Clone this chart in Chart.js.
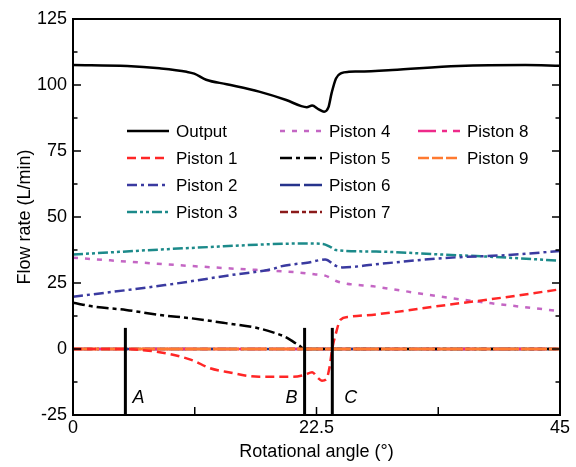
<!DOCTYPE html>
<html>
<head>
<meta charset="utf-8">
<script src="https://cdn.jsdelivr.net/npm/chart.js@4.4.1/dist/chart.umd.min.js"></script>
<style>
  html, body { margin: 0; padding: 0; background: #fff; }
  #wrap { width: 576px; height: 467px; }
</style>
</head>
<body>
<div id="wrap"><canvas id="flowChart" width="576" height="467"></canvas></div>
<script>
// Flow rate vs rotational angle

var outputX = [0, 5, 8, 10.5, 11.2, 12.3, 14.2, 17.2, 19.7, 21.1, 21.6, 22.1, 22.7, 23.2, 23.6, 23.9, 24.3, 24.8, 25.5, 26.4, 29.5, 35.6, 41.8, 45];
var outputY = [107.6, 107.2, 106.3, 105, 104.3, 102, 100.3, 97.5, 94.3, 92, 91.6, 92.2, 90.8, 89.9, 91.5, 97, 102.5, 104.5, 105, 105.1, 105.7, 107.2, 107.6, 107.3];

var piston1X = [0, 4.8, 6.3, 8, 11, 12.6, 14.1, 17.2, 20.3, 21.4, 22.1, 22.6, 23.0, 23.4, 23.7, 23.95, 24.3, 24.7, 25.5, 28, 34, 38.7, 45];
var piston1Y = [0, 0, -0.4, -1.2, -4.2, -7.2, -8.6, -10.5, -10.5, -9.8, -8.8, -10.8, -12, -11.5, -7, 0, 6, 11, 12.2, 13.1, 16.4, 18.9, 22.6];

var piston2X = [0, 8.5, 14.6, 18.6, 19.2, 21.8, 23.3, 24.3, 24.9, 28, 34.1, 40.2, 45];
var piston2Y = [19.8, 24.2, 28, 30.5, 31.3, 32.8, 33.9, 31.5, 30.9, 32.1, 34.4, 35.6, 37.1];

var piston3X = [0, 11.5, 21.8, 23.1, 23.8, 24.3, 28, 34, 40.2, 45];
var piston3Y = [35.8, 38.4, 40, 39.8, 38.6, 37.5, 36.9, 35.8, 34.6, 33.4];

var piston4X = [0, 8.5, 14.6, 20.8, 22.3, 23.3, 24.5, 28, 34, 38.7, 44, 45];
var piston4Y = [34.6, 32.1, 30.5, 29, 28.3, 27.8, 25.5, 23.6, 19.8, 17.3, 14.8, 14.3];

var piston5X = [0, 2, 4.9, 8, 11, 14.1, 17.2, 18.7, 19.6, 20.3, 20.9, 21.4, 45];
var piston5Y = [17.5, 16, 14.8, 12.9, 11.6, 9.8, 7.8, 6, 4.6, 2.9, 1.3, 0, 0];

// pistons 6 to 9 stay at zero over the whole range
var zeroX = [0, 45];
var piston6Y = [0, 0];
var piston7Y = [0, 0];
var piston8Y = [0, 0];
var piston9Y = [0, 0];

var xTickLabels = ['0', '22.5', '45'];
var yTickLabels = ['-25', '0', '25', '50', '75', '100', '125'];

var markerAngles = [4.84, 21.4, 23.96];
var markerNames = ['A', 'B', 'C'];
var markerTop = 8;

function pts(xs, ys) {
    return xs.map(function (x, i) { return { x: x, y: ys[i] }; });
}

function series(label, xs, ys, color, dash, order) {
    return {
        label: label,
        data: pts(xs, ys),
        borderColor: color,
        backgroundColor: color,
        borderWidth: 2.5,
        borderDash: dash,
        pointRadius: 0,
        fill: false,
        cubicInterpolationMode: 'monotone',
        order: order
    };
}

var datasets = [
    series('Output', outputX, outputY, '#000000', [], 0),
    series('Piston 1', piston1X, piston1Y, '#ff2626', [9, 5], 1),
    series('Piston 2', piston2X, piston2Y, '#3a3aa0', [10, 4, 3, 4], 2),
    series('Piston 3', piston3X, piston3Y, '#1c8a8a', [10, 3, 3, 3, 3, 3], 3),
    series('Piston 4', piston4X, piston4Y, '#c466c4', [5, 7], 4),
    series('Piston 5', piston5X, piston5Y, '#000000', [12, 4, 4, 4], 6),
    series('Piston 6', zeroX, piston6Y, '#26338c', [20, 4], 8),
    series('Piston 7', zeroX, piston7Y, '#8b1a1a', [8, 3, 8, 3, 4, 3], 9),
    series('Piston 8', zeroX, piston8Y, '#ee2a8a', [18, 6, 5, 6], 7),
    series('Piston 9', zeroX, piston9Y, '#ff7a30', [11, 3], 5)
];
// on the plot the orange zero line hides almost everything under it
datasets[9].segment = { borderDash: [26, 2] };
datasets[9].borderWidth = 3;

var FONT = 'Liberation Sans, Arial, sans-serif';

// box, inward ticks, A/B/C markers and the 3-column legend
var decorPlugin = {
    id: 'decor',
    afterDraw: function (chart) {
        var ctx = chart.ctx;
        var a = chart.chartArea;
        var xs = chart.scales.x, ys = chart.scales.y;
        ctx.save();
        ctx.strokeStyle = '#000';
        ctx.lineWidth = 2;
        ctx.strokeRect(a.left, a.top, a.right - a.left, a.bottom - a.top);

        ctx.lineWidth = 1.5;
        xs.ticks.forEach(function (t) {
            var px = xs.getPixelForValue(t.value);
            ctx.beginPath();
            ctx.moveTo(px, a.bottom);
            ctx.lineTo(px, a.bottom - 8);
            ctx.stroke();
        });
        ys.ticks.forEach(function (t) {
            var py = ys.getPixelForValue(t.value);
            var len = (t.value % 25 === 0) ? 8 : 4.5;
            ctx.beginPath();
            ctx.moveTo(a.left, py);
            ctx.lineTo(a.left + len, py);
            ctx.moveTo(a.right, py);
            ctx.lineTo(a.right - len, py);
            ctx.stroke();
        });

        // marker lines
        ctx.lineWidth = 3;
        ctx.font = 'italic 18px ' + FONT;
        ctx.fillStyle = '#000';
        ctx.textBaseline = 'middle';
        markerAngles.forEach(function (ang, i) {
            var px = xs.getPixelForValue(ang);
            ctx.beginPath();
            ctx.moveTo(px, ys.getPixelForValue(ys.min));
            ctx.lineTo(px, ys.getPixelForValue(markerTop));
            ctx.stroke();
            var ly = ys.getPixelForValue(-18.5);
            if (markerNames[i] === 'B') {
                ctx.textAlign = 'right';
                ctx.fillText(markerNames[i], px - 7, ly);
            } else {
                ctx.textAlign = 'left';
                ctx.fillText(markerNames[i], px + (i === 0 ? 7 : 12), ly);
            }
        });

        // legend, 3 columns, filled column by column
        var colX = [127, 280, 418];
        var rowY = [131, 158, 185, 212];
        ctx.font = '17px ' + FONT;
        ctx.textAlign = 'left';
        chart.data.datasets.forEach(function (ds, i) {
            var col = Math.floor(i / 4), row = i % 4;
            var x0 = colX[col], y0 = rowY[row];
            ctx.strokeStyle = ds.borderColor;
            ctx.lineWidth = 2.5;
            ctx.setLineDash(ds.borderDash);
            ctx.beginPath();
            ctx.moveTo(x0, y0);
            ctx.lineTo(x0 + 42, y0);
            ctx.stroke();
            ctx.setLineDash([]);
            ctx.fillStyle = '#000';
            ctx.fillText(ds.label, x0 + 49, y0 + 1);
        });
        ctx.restore();
    }
};

var flowChart = new Chart(document.getElementById('flowChart'), {
    type: 'line',
    data: { datasets: datasets },
    plugins: [decorPlugin],
    options: {
        responsive: false,
        animation: false,
        layout: { padding: { top: 19, right: 16, left: 0, bottom: 0 } },
        plugins: { legend: { display: false }, tooltip: { enabled: false } },
        scales: {
            x: {
                type: 'linear',
                min: 0, max: 45,
                grid: { display: false, drawTicks: false },
                border: { display: false },
                ticks: {
                    stepSize: 11.25,
                    autoSkip: false,
                    maxRotation: 0,
                    padding: 2,
                    color: '#000',
                    font: { family: FONT, size: 18 },
                    callback: function (v) {
                        var s = String(v);
                        return xTickLabels.indexOf(s) >= 0 ? s : '';
                    }
                },
                title: {
                    display: true,
                    text: 'Rotational angle (°)',
                    color: '#000',
                    font: { family: FONT, size: 18 },
                    padding: { top: 0, bottom: 4 }
                },
                afterFit: function (s) { s.height = 52; }
            },
            y: {
                min: -25, max: 125,
                grid: { display: false, drawTicks: false },
                border: { display: false },
                ticks: {
                    stepSize: 12.5,
                    autoSkip: false,
                    padding: 6,
                    color: '#000',
                    font: { family: FONT, size: 18 },
                    callback: function (v) {
                        var s = String(v);
                        return yTickLabels.indexOf(s) >= 0 ? s : '';
                    }
                },
                title: {
                    display: true,
                    text: 'Flow rate (L/min)',
                    color: '#000',
                    font: { family: FONT, size: 18 },
                    padding: { top: 14, bottom: 0 }
                },
                afterFit: function (s) { s.width = 73; }
            }
        }
    }
});
</script>
</body>
</html>
